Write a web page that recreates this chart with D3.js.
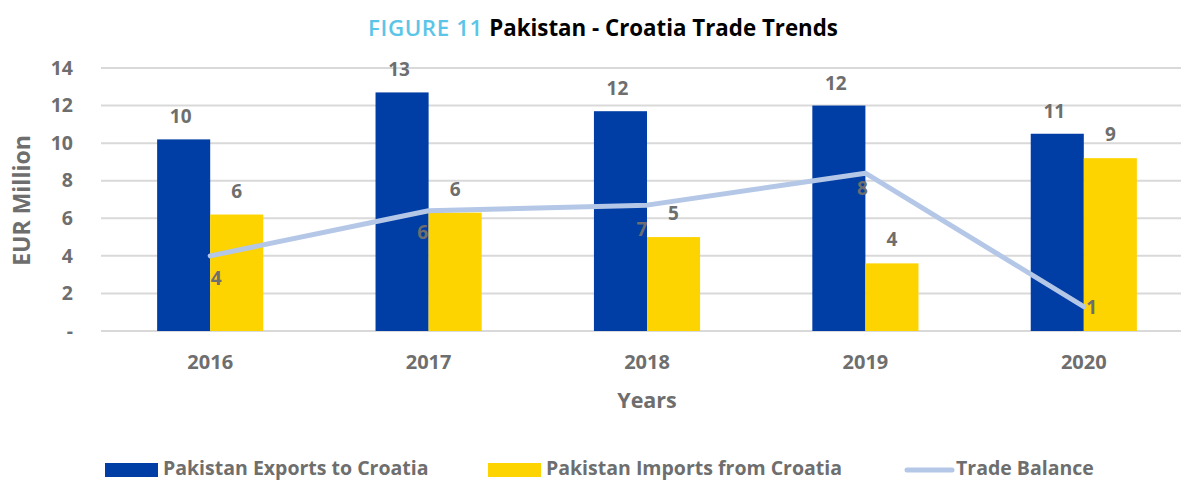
<!DOCTYPE html>
<html>
<head>
<meta charset="utf-8">
<script src="https://cdn.jsdelivr.net/npm/d3@7"></script>
<style>
  body { margin: 0; background: #fff; }
  svg { display: block; font-family: "Open Sans", "Noto Sans", sans-serif; }
</style>
</head>
<body>
<div id="graph"></div>
<script>
// chart data
const years = ["2016", "2017", "2018", "2019", "2020"];
const exportsToCroatia = [10.2, 12.7, 11.7, 12.0, 10.5];
const importsFromCroatia = [6.2, 6.3, 5.0, 3.6, 9.2];
const tradeBalance = [4.0, 6.4, 6.7, 8.4, 1.3];
const yTicks = [0, 2, 4, 6, 8, 10, 12, 14];
const seriesNames = ["Pakistan Exports to Croatia", "Pakistan Imports from Croatia", "Trade Balance"];

const colors = { exp: "#003DA5", imp: "#FDD300", bal: "#B4C7E7" };
const grey = "#6E6E6E";

function renderChart() {
    const width = 1181;
    const height = 481;
    const margin = {top: 68, bottom: 150, left: 101, right: -12};

    const svg = d3.select("#graph")
        .append("svg")
        .attr("width", width)
        .attr("height", height);

    const x = d3.scaleBand()
        .domain(years)
        .range([margin.left, width - margin.right])
        .padding(0);

    const barW = x.bandwidth() * 0.243;

    const y = d3.scaleLinear()
        .domain([0, 14])
        .range([height - margin.bottom, margin.top]);

    // gridlines
    svg.append("g")
        .selectAll("line")
        .data(yTicks)
        .join("line")
        .attr("x1", margin.left)
        .attr("x2", width - margin.right)
        .attr("y1", d => y(d))
        .attr("y2", d => y(d))
        .attr("stroke", "#D9D9D9")
        .attr("stroke-width", 2);

    // y axis labels
    const yAxis = svg.append("g")
        .attr("transform", `translate(${margin.left - 25}, 0)`)
        .call(d3.axisLeft(y).tickValues(yTicks).tickSize(0).tickFormat(d => d === 0 ? "-" : d));
    yAxis.select(".domain").remove();
    yAxis.selectAll("text")
        .attr("fill", grey)
        .attr("font-size", 19.5)
        .attr("font-weight", 700)
        .attr("font-family", "Open Sans");

    // x axis labels
    const xAxis = svg.append("g")
        .attr("transform", `translate(0, ${y(0) + 21})`)
        .call(d3.axisBottom(x).tickSize(0));
    xAxis.select(".domain").remove();
    xAxis.selectAll("text")
        .attr("fill", grey)
        .attr("font-size", 20)
        .attr("font-weight", 700)
        .attr("font-family", "Open Sans");

    const cx = d => x(d) + x.bandwidth() / 2;

    // bars
    svg.append("g")
        .selectAll("rect")
        .data(years)
        .join("rect")
        .attr("x", d => cx(d) - barW)
        .attr("y", (d, i) => y(exportsToCroatia[i]))
        .attr("width", barW)
        .attr("height", (d, i) => y(0) - y(exportsToCroatia[i]))
        .attr("fill", colors.exp);

    svg.append("g")
        .selectAll("rect")
        .data(years)
        .join("rect")
        .attr("x", d => cx(d))
        .attr("y", (d, i) => y(importsFromCroatia[i]))
        .attr("width", barW)
        .attr("height", (d, i) => y(0) - y(importsFromCroatia[i]))
        .attr("fill", colors.imp);

    // trade balance line
    const line = d3.line()
        .x((d, i) => cx(years[i]))
        .y(d => y(d));

    svg.append("path")
        .datum(tradeBalance)
        .attr("d", line)
        .attr("fill", "none")
        .attr("stroke", colors.bal)
        .attr("stroke-width", 5)
        .attr("stroke-linejoin", "round")
        .attr("stroke-linecap", "round");

    const labelStyle = sel => sel
        .attr("fill", grey)
        .attr("font-size", 19)
        .attr("font-weight", 700)
        .attr("text-anchor", "middle");

    // value labels
    svg.append("g")
        .selectAll("text")
        .data(exportsToCroatia)
        .join("text")
        .attr("x", (d, i) => cx(years[i]) - barW / 2 - 3)
        .attr("y", d => y(d) - 16)
        .text(d => Math.round(d))
        .call(labelStyle);

    svg.append("g")
        .selectAll("text")
        .data(importsFromCroatia)
        .join("text")
        .attr("x", (d, i) => cx(years[i]) + barW / 2)
        .attr("y", d => y(d) - 17)
        .text(d => Math.round(d))
        .call(labelStyle);

    // balance labels, nudged like the original
    const balOffset = [[6, 29], [-6, 28], [-5, 31], [-3, 22], [8, 7]];
    svg.append("g")
        .selectAll("text")
        .data(tradeBalance)
        .join("text")
        .attr("x", (d, i) => cx(years[i]) + balOffset[i][0])
        .attr("y", (d, i) => y(d) + balOffset[i][1])
        .text(d => Math.round(d))
        .call(labelStyle);

    // axis titles
    svg.append("text")
        .attr("transform", `translate(30, ${(y(0) + y(14)) / 2 + 1}) rotate(-90)`)
        .attr("text-anchor", "middle")
        .attr("fill", grey)
        .attr("font-size", 23)
        .attr("font-weight", 700)
        .text("EUR Million");

    svg.append("text")
        .attr("x", (margin.left + 1193) / 2)
        .attr("y", 408)
        .attr("text-anchor", "middle")
        .attr("fill", grey)
        .attr("font-size", 21.5)
        .attr("font-weight", 700)
        .text("Years");

    // title
    const title = svg.append("text")
        .attr("x", 603)
        .attr("y", 36)
        .attr("text-anchor", "middle")
        .attr("font-size", 22.3);
    title.append("tspan").attr("fill", "#5BC5E8").attr("font-weight", 600)
        .attr("letter-spacing", 0.6).text("FIGURE 11 ");
    title.append("tspan").attr("fill", "#000").attr("font-weight", 700).text("Pakistan - Croatia Trade Trends");

    // legend
    const legendX = [105, 488, 905];
    const legend = svg.append("g");
    seriesNames.forEach((name, i) => {
        const g = legend.append("g").attr("transform", `translate(${legendX[i]}, 469)`);
        if (i < 2) {
            g.append("rect")
                .attr("x", 0).attr("y", -6)
                .attr("width", 53).attr("height", 14)
                .attr("fill", i === 0 ? colors.exp : colors.imp);
        } else {
            g.append("line")
                .attr("x1", 2).attr("x2", 47)
                .attr("y1", 1).attr("y2", 1)
                .attr("stroke", colors.bal)
                .attr("stroke-width", 5)
                .attr("stroke-linecap", "round");
        }
        g.append("text")
            .attr("x", i < 2 ? 58 : 51)
            .attr("y", 6)
            .attr("fill", grey)
            .attr("font-size", 19.5)
            .attr("font-weight", 700)
            .text(name);
    });
}

renderChart();
</script>
</body>
</html>
